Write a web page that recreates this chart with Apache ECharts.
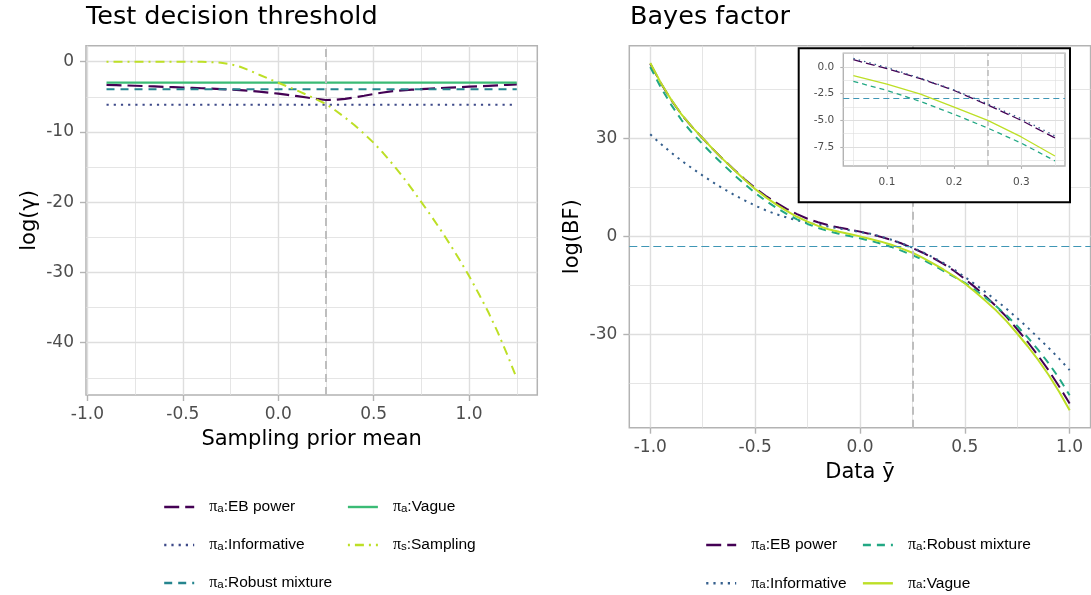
<!DOCTYPE html>
<html><head><meta charset="utf-8">
<script src="https://cdn.jsdelivr.net/npm/echarts@6/dist/echarts.min.js"></script>
<style>html,body{margin:0;padding:0;background:#fff}#c{width:1091px;height:595px}</style>
</head><body><div id="c"></div>
<script>
// ---------- Left panel: Test decision threshold ----------
const leftX = [-0.90,-0.85,-0.80,-0.75,-0.70,-0.65,-0.60,-0.55,-0.50,-0.45,-0.40,-0.35,-0.30,-0.25,-0.20,-0.15,-0.10,-0.05,0.00,0.05,0.10,0.15,0.20,0.25,0.30,0.35,0.40,0.45,0.50,0.55,0.60,0.65,0.70,0.75,0.80,0.85,0.90,0.95,1.00,1.05,1.10,1.15,1.20,1.25];
const leftEB = [-3.30,-3.34,-3.38,-3.42,-3.47,-3.52,-3.57,-3.62,-3.67,-3.72,-3.78,-3.84,-3.90,-3.97,-4.05,-4.15,-4.27,-4.40,-4.55,-4.72,-4.90,-5.10,-5.30,-5.45,-5.42,-5.28,-5.08,-4.85,-4.60,-4.38,-4.20,-4.08,-3.98,-3.90,-3.82,-3.75,-3.68,-3.62,-3.56,-3.50,-3.43,-3.36,-3.29,-3.22];
const leftSampling = [0,0,0,0,0,0,0,0,0,-0.01,-0.02,-0.06,-0.15,-0.35,-0.72,-1.25,-1.85,-2.42,-3.0,-3.55,-4.12,-4.72,-5.35,-6.02,-6.95,-7.95,-9.05,-10.25,-11.55,-13.0,-14.6,-16.3,-18.1,-20.0,-21.9,-23.9,-26.0,-28.2,-30.5,-33.0,-35.6,-38.5,-41.7,-45.1];
const leftConstX = [-0.90, 1.25];
const leftInformative = [-6.14, -6.14];
const leftRobust = [-3.93, -3.93];
const leftVague = [-2.97, -2.97];

// ---------- Right panel: Bayes factor ----------
const rightX = [-1.00,-0.95,-0.90,-0.85,-0.80,-0.75,-0.70,-0.65,-0.60,-0.55,-0.50,-0.45,-0.40,-0.35,-0.30,-0.25,-0.20,-0.15,-0.10,-0.05,0.00,0.05,0.10,0.15,0.20,0.25,0.30,0.35,0.40,0.45,0.50,0.55,0.60,0.65,0.70,0.75,0.80,0.85,0.90,0.95,1.00];
const rightEB = [52.8,46.9,41.7,37.2,33.4,30.0,26.6,23.4,20.4,17.5,14.8,12.4,10.3,8.4,6.8,5.4,4.3,3.4,2.7,2.1,1.45,0.68,-0.15,-1.1,-2.2,-3.56,-5.0,-6.64,-8.5,-10.6,-13.0,-15.6,-18.4,-21.4,-24.7,-28.4,-32.3,-36.5,-41.0,-45.9,-51.1];
const rightInformative = [31.2,28.3,25.6,23.1,20.8,18.6,16.5,14.5,12.7,11.0,9.4,8.0,6.8,5.8,4.9,4.2,3.6,3.0,2.4,1.9,1.35,0.8,-0.05,-1.05,-2.15,-3.45,-4.85,-6.45,-8.2,-10.2,-12.4,-14.7,-17.1,-19.6,-22.2,-25.0,-27.9,-31.0,-34.1,-37.4,-40.9];
const rightRobust = [51.8,45.6,40.2,35.5,31.6,28.2,24.9,21.8,18.8,16.0,13.3,10.9,8.8,6.9,5.2,3.8,2.6,1.6,0.8,0.1,-0.6,-1.35,-2.2,-3.23,-4.43,-5.72,-7.13,-8.79,-10.6,-12.4,-14.2,-16.4,-18.8,-21.4,-24.2,-27.4,-30.9,-34.7,-38.8,-43.4,-48.6];
const rightVague = [53.0,47.0,41.8,37.2,33.4,30.0,26.6,23.4,20.3,17.3,14.5,12.0,9.8,7.8,6.0,4.5,3.2,2.2,1.4,0.7,0.0,-0.8,-1.6,-2.55,-3.75,-5.0,-6.55,-8.33,-10.2,-12.2,-14.4,-17.0,-19.8,-22.7,-26.0,-29.7,-33.6,-37.8,-42.4,-47.5,-53.2];
const insetRange = [0.05, 0.35];

// reference lines
const priorMeanRef = 0.25;
const bfThreshold = -2.94;

// tick values
const leftXTicks = [-1.0,-0.5,0.0,0.5,1.0];
const leftXMinor = [-0.75,-0.25,0.25,0.75,1.25];
const leftYTicks = [0,-10,-20,-30,-40];
const leftYMinor = [-5,-15,-25,-35,-45];
const rightXTicks = [-1.0,-0.5,0.0,0.5,1.0];
const rightXMinor = [-0.75,-0.25,0.25,0.75];
const rightYTicks = [30,0,-30];
const rightYMinor = [45,15,-15,-45];
const insetXTicks = [0.1,0.2,0.3];
const insetXMinor = [0.05,0.15,0.25,0.35];
const insetYTicks = [0,-2.5,-5,-7.5];
const insetYMinor = [1.25,-1.25,-3.75,-6.25,-8.75];

// ---------- styling ----------
const FONT = '"DejaVu Sans", "Liberation Sans", Arial, sans-serif';
const LFONT = '"Liberation Sans", Arial, Helvetica, sans-serif';
const BORDER = '#B3B3B3', GRIDC = '#DEDEDE', TXT = '#4D4D4D';
const DASH = { longdash:[15,6], dashed:[8,6], dotted:[2.2,5], dotdash:[2,5,9,5] };

function pairs(xs, ys){ return xs.map((x,i)=>[x, ys[i]]); }
function insetPairs(xs, ys){ return pairs(xs, ys).filter(p => p[0] >= insetRange[0]-1e-9 && p[0] <= insetRange[1]+1e-9); }
const f1 = v => Number(v).toFixed(1);
const f0 = v => String(Math.round(v));

function majorAxis(o){
  return {
    type:'value', gridIndex:o.grid, min:o.min, max:o.max, z:o.z||0,
    position:o.position,
    axisLine:{show:false,onZero:false},
    axisTick:{show:true,customValues:o.ticks,length:o.tickLen,lineStyle:{color:BORDER,width:o.lw}},
    axisLabel:{show:true,customValues:o.ticks,formatter:o.fmt,color:TXT,fontSize:o.fs,fontFamily:FONT,margin:o.margin},
    splitLine:{show:true,lineStyle:{color:GRIDC,width:o.lw}},
    minorTick:{show:false}, minorSplitLine:{show:false},
    name:o.name||'', nameLocation:'middle', nameGap:o.nameGap||0,
    nameTextStyle:{fontSize:21,color:'#000',fontFamily:FONT}
  };
}
function minorAxis(o){
  return {
    type:'value', gridIndex:o.grid, min:o.min, max:o.max, z:o.z||0,
    position:o.position,
    axisLine:{show:false,onZero:false},
    axisTick:{show:false,customValues:o.ticks},
    axisLabel:{show:false,customValues:o.ticks},
    splitLine:{show:true,lineStyle:{color:GRIDC,width:o.lw}},
    minorTick:{show:false}, minorSplitLine:{show:false}
  };
}

const LMIN = {x:-1.0075, X:1.3575, y:-47.45, Y:2.28};
const RMIN = {x:-1.1, X:1.1, y:-58.51, Y:58.31};
const IMIN = {x:0.035, X:0.365, y:-9.27, Y:1.28};

const xAxes = [
  majorAxis({grid:0,min:LMIN.x,max:LMIN.X,ticks:leftXTicks,fmt:f1,fs:17,margin:11,tickLen:6,lw:1.4,position:'bottom',name:'Sampling prior mean',nameGap:34}),
  minorAxis({grid:0,min:LMIN.x,max:LMIN.X,ticks:leftXMinor,lw:0.8,position:'bottom'}),
  majorAxis({grid:1,min:RMIN.x,max:RMIN.X,ticks:rightXTicks,fmt:f1,fs:17,margin:11,tickLen:6,lw:1.4,position:'bottom',name:'Data ȳ',nameGap:34}),
  minorAxis({grid:1,min:RMIN.x,max:RMIN.X,ticks:rightXMinor,lw:0.8,position:'bottom'}),
  majorAxis({grid:2,min:IMIN.x,max:IMIN.X,ticks:insetXTicks,fmt:f1,fs:10.5,margin:11,tickLen:3,lw:1.1,position:'bottom',z:20}),
  minorAxis({grid:2,min:IMIN.x,max:IMIN.X,ticks:insetXMinor,lw:0.6,position:'bottom',z:20})
];
const yAxes = [
  majorAxis({grid:0,min:LMIN.y,max:LMIN.Y,ticks:leftYTicks,fmt:f0,fs:17,margin:12,tickLen:6,lw:1.4,position:'left',name:'log(γ)',nameGap:46}),
  minorAxis({grid:0,min:LMIN.y,max:LMIN.Y,ticks:leftYMinor,lw:0.8,position:'left'}),
  majorAxis({grid:1,min:RMIN.y,max:RMIN.Y,ticks:rightYTicks,fmt:f0,fs:17,margin:12,tickLen:6,lw:1.4,position:'left',name:'log(BF)',nameGap:46}),
  minorAxis({grid:1,min:RMIN.y,max:RMIN.Y,ticks:rightYMinor,lw:0.8,position:'left'}),
  majorAxis({grid:2,min:IMIN.y,max:IMIN.Y,ticks:insetYTicks,fmt:f1,fs:10.5,margin:9,tickLen:3,lw:1.1,position:'left',z:20}),
  minorAxis({grid:2,min:IMIN.y,max:IMIN.Y,ticks:insetYMinor,lw:0.6,position:'left',z:20})
];

function line(name, data, axis, color, width, dash, z, extra){
  return Object.assign({
    name, type:'line', data, xAxisIndex:axis, yAxisIndex:axis,
    symbol:'none', showSymbol:false, silent:true, z:z||2, clip:true,
    lineStyle:{color, width, type:dash||'solid', cap:'butt'},
    itemStyle:{color},
    emphasis:{disabled:true}
  }, extra||{});
}
function vline(x, color, width, dash){
  return {silent:true, symbol:'none', label:{show:false}, animation:false,
    lineStyle:{color, width, type:dash}, data:[{xAxis:x}]};
}

const C = {
  lEB:'#440154', lInf:'#3E4A89', lRob:'#25858E', lVag:'#3BBB75', lSamp:'#BDDF26',
  rEB:'#440154', rInf:'#355F8D', rRob:'#22A884', rVag:'#BDDF26', thr:'#3F96B5', ref:'#BEBEBE'
};

const series = [
  line('L-EB', pairs(leftX,leftEB), 0, C.lEB, 2.2, DASH.longdash, 2, {markLine: vline(priorMeanRef, C.ref, 2, [8,5])}),
  line('L-Inf', pairs(leftConstX,leftInformative), 0, C.lInf, 2, DASH.dotted),
  line('L-Rob', pairs(leftConstX,leftRobust), 0, C.lRob, 2, DASH.dashed),
  line('L-Vag', pairs(leftConstX,leftVague), 0, C.lVag, 2.2, 'solid'),
  line('L-Samp', pairs(leftX,leftSampling), 0, C.lSamp, 2, DASH.dotdash),

  line('R-EB', pairs(rightX,rightEB), 2, C.rEB, 2, DASH.longdash, 2, {markLine: {
    silent:true, symbol:'none', label:{show:false}, animation:false,
    data:[
      {xAxis:priorMeanRef, lineStyle:{color:C.ref,width:2,type:[8,5]}},
      {yAxis:bfThreshold, lineStyle:{color:C.thr,width:1.2,type:[8,4]}}
    ]}}),
  line('R-Inf', pairs(rightX,rightInformative), 2, C.rInf, 2, DASH.dotted),
  line('R-Rob', pairs(rightX,rightRobust), 2, C.rRob, 2, DASH.dashed),
  line('R-Vag', pairs(rightX,rightVague), 2, C.rVag, 2, 'solid'),

  line('I-EB', insetPairs(rightX,rightEB), 4, C.rEB, 1.3, [9,4], 21, {markLine: {
    silent:true, symbol:'none', label:{show:false}, animation:false, z:21,
    data:[
      {xAxis:priorMeanRef, lineStyle:{color:C.ref,width:1.6,type:[6,4]}},
      {yAxis:bfThreshold, lineStyle:{color:C.thr,width:1.1,type:[6,4]}}
    ]}}),
  line('I-Inf', insetPairs(rightX,rightInformative), 4, C.rInf, 1.3, [1.5,4], 21),
  line('I-Rob', insetPairs(rightX,rightRobust), 4, C.rRob, 1.3, [5,4], 21),
  line('I-Vag', insetPairs(rightX,rightVague), 4, C.rVag, 1.3, 'solid', 21)
];

const legendLabels = {
  'L-EB':['a',':EB power'], 'L-Inf':['a',':Informative'], 'L-Rob':['a',':Robust mixture'],
  'L-Vag':['a',':Vague'], 'L-Samp':['s',':Sampling'],
  'R-EB':['a',':EB power'], 'R-Inf':['a',':Informative'], 'R-Rob':['a',':Robust mixture'], 'R-Vag':['a',':Vague']
};
const rich = {
  pi:{fontSize:16, fontFamily:'"Liberation Serif", "DejaVu Serif", serif', color:'#000', lineHeight:16, padding:[0,0,0,10]},
  sub:{fontSize:11.5, fontFamily:LFONT, color:'#000', lineHeight:7, verticalAlign:'bottom'},
  t:{fontSize:15.5, fontFamily:LFONT, color:'#000', lineHeight:16}
};
function legend(names, left, top, gap){
  return {
    data:names, left, top, orient:'vertical', itemGap:gap, itemWidth:30, itemHeight:14,
    padding:0, selectedMode:false,
    itemStyle:{opacity:0}, lineStyle:{width:2.4},
    formatter: n => '{pi|π}{sub|' + legendLabels[n][0] + '}{t|' + legendLabels[n][1] + '}',
    textStyle:{rich, fontFamily:LFONT, fontSize:15.5, color:'#000'}
  };
}

const TITLE_STYLE = {fontSize:25.5,fontWeight:'normal',color:'#000',fontFamily:FONT};
const option = {
  animation:false,
  backgroundColor:'#fff',
  title:[
    {text:'Test decision threshold', left:86, top:4, padding:0, textStyle:TITLE_STYLE},
    {text:'Bayes factor', left:630, top:4, padding:0, textStyle:TITLE_STYLE}
  ],
  grid:[
    {left:86, top:45.7, width:451.3, height:349.3, show:true, borderColor:BORDER, borderWidth:1.5, backgroundColor:'transparent', containLabel:false},
    {left:629.3, top:45.7, width:461.3, height:382, show:true, borderColor:BORDER, borderWidth:1.5, backgroundColor:'transparent', containLabel:false},
    {left:843.3, top:53.3, width:221.7, height:112.7, show:true, borderColor:BORDER, borderWidth:1.4, backgroundColor:'transparent', containLabel:false, z:20}
  ],
  xAxis:xAxes,
  yAxis:yAxes,
  legend:[
    legend(['L-EB','L-Inf','L-Rob'], 163, 499, 22),
    legend(['L-Vag','L-Samp'], 346.7, 499, 22),
    legend(['R-EB','R-Inf'], 705, 537, 22.3),
    legend(['R-Rob','R-Vag'], 861.7, 537, 22.3)
  ],
  graphic:[
    {type:'rect', z:10, silent:true, shape:{x:798.7, y:48.3, width:271.3, height:154}, style:{fill:'#fff', stroke:'#000', lineWidth:2}}
  ],
  series
};

const chart = echarts.init(document.getElementById('c'), null, {renderer:'canvas', width:1091, height:595});
chart.setOption(option);
</script>
</body></html>
